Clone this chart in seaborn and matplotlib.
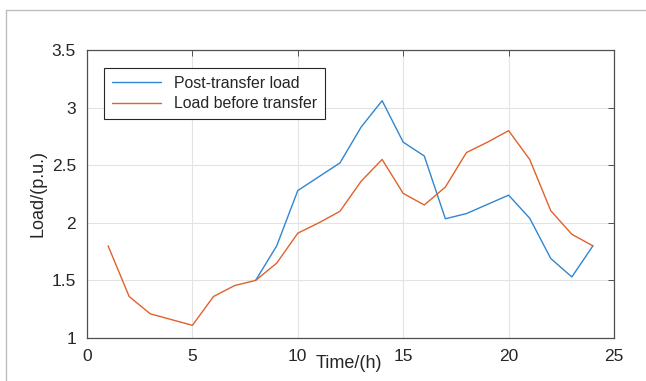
import numpy as np
import pandas as pd
import matplotlib
matplotlib.use("Agg")
import matplotlib.pyplot as plt
from matplotlib.lines import Line2D
import seaborn as sns

# data
hours_before = list(range(1, 25))
load_before = [1.80, 1.36, 1.21, 1.16, 1.11, 1.36, 1.455, 1.50, 1.65, 1.91, 2.00, 2.10,
               2.36, 2.55, 2.255, 2.155, 2.31, 2.61, 2.70, 2.80, 2.55, 2.105, 1.90, 1.80]
hours_post = list(range(8, 25))
load_post = [1.50, 1.80, 2.28, 2.40, 2.52, 2.83, 3.06, 2.70, 2.58, 2.035, 2.08, 2.16,
             2.24, 2.04, 1.69, 1.53, 1.80]
x_ticks = [0, 5, 10, 15, 20, 25]
y_ticks = [1, 1.5, 2, 2.5, 3, 3.5]
y_tick_labels = ["1", "1.5", "2", "2.5", "3", "3.5"]

df_post = pd.DataFrame({"time": hours_post, "load": load_post})
df_before = pd.DataFrame({"time": hours_before, "load": load_before})

sns.set_style("white")
plt.rcParams['font.family'] = ['Liberation Sans', 'DejaVu Sans']

fig = plt.figure(figsize=(6.46, 3.81), dpi=100)
ax = fig.add_axes([87/646, 1-338/381, (614-87)/646, (338-50)/381])

sns.lineplot(data=df_post, x="time", y="load", ax=ax, color="#2f86d2", linewidth=1.0,
             label="Post-transfer load")
sns.lineplot(data=df_before, x="time", y="load", ax=ax, color="#e0622a", linewidth=1.0,
             label="Load before transfer")

ax.set_xlim(0, 25)
ax.set_ylim(1, 3.5)
ax.set_xticks(x_ticks)
ax.set_yticks(y_ticks)
ax.set_yticklabels(y_tick_labels)
ax.grid(True, color="#e3e3e3", linewidth=0.8)
ax.set_axisbelow(True)
ax.tick_params(direction="in", top=True, right=True, length=4, width=0.7,
               color="#505050", labelcolor="#262626", labelsize=12.5, pad=8)
for s in ax.spines.values():
    s.set_color("#505050")
    s.set_linewidth(0.9)

ax.set_xlabel("Time/(h)", fontsize=13, color="#262626")
ax.set_ylabel("Load/(p.u.)", fontsize=13, color="#262626")
ax.xaxis.set_label_coords(0.497, -0.09)
ax.yaxis.label.set_va("center")
ax.xaxis.label.set_va("center")
ax.yaxis.set_label_coords(-0.093, 0.503)

leg = ax.legend(loc="upper left", bbox_to_anchor=(0.032, 0.9375), borderaxespad=0,
                fontsize=11.4, handlelength=3.1, fancybox=False, framealpha=1,
                edgecolor="#262626", borderpad=0.5, labelspacing=0.35)
leg.get_frame().set_linewidth(0.8)

# light frame around the figure
fig.add_artist(Line2D([6/646, 1], [1-10/381, 1-10/381], color="#bdbdbd", linewidth=1.0))
fig.add_artist(Line2D([6/646, 6/646], [0, 1-10/381], color="#bdbdbd", linewidth=1.0))

fig.savefig("out.png", dpi=100)
